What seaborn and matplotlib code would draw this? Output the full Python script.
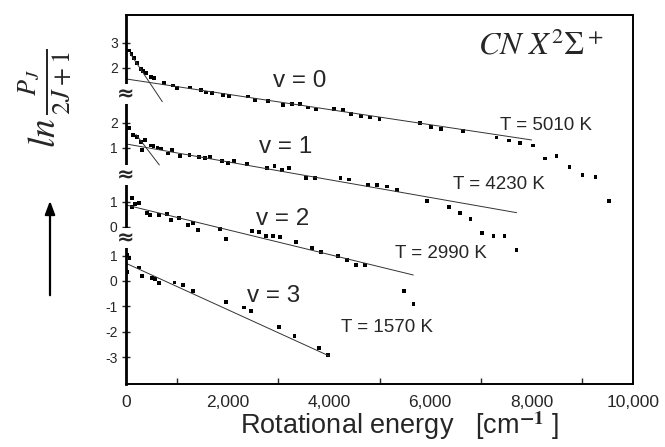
import numpy as np
import pandas as pd
import matplotlib
matplotlib.use("Agg")
import matplotlib.pyplot as plt
import seaborn as sns

# ---------------- data ----------------
x_v0 = [59, 108, 158, 217, 290, 341, 394, 493, 558, 755, 921, 1012, 1262, 1479, 1578, 1690,
        1919, 2031, 2412, 2544, 2806, 3102, 3274, 3431, 3589, 3753, 4108, 4285, 4443, 4640,
        4818, 5003, 5798, 6015, 6212, 6646, 7310, 7553, 7770, 8026, 8263, 8493, 8750, 9006,
        9259, 9525]
y_v0 = [2.689, 2.551, 2.382, 2.197, 1.960, 1.882, 1.791, 1.634, 1.594, 1.397, 1.303, 1.201,
        1.224, 1.122, 1.027, 1.004, 0.937, 0.897, 0.870, 0.740, 0.701, 0.543, 0.583, 0.571,
        0.445, 0.358, 0.386, 0.334, 0.189, 0.110, 0.043, -0.008, -0.166, -0.323, -0.414,
        -0.480, -0.736, -0.862, -0.953, -1.051, -1.571, -1.465, -1.898, -2.213, -2.280, -3.225]

x_v1 = [65, 138, 217, 302, 321, 375, 493, 542, 621, 690, 828, 901, 1065, 1252, 1445, 1558,
        1656, 1887, 2006, 2130, 2380, 2775, 2928, 3082, 3214, 3544, 3727, 4230, 4398, 4768,
        4950, 5153, 5344, 5936, 6369, 6586, 6797, 7026, 7247, 7468, 7705]
y_v1 = [1.776, 1.512, 1.433, 1.248, 0.921, 1.315, 1.091, 1.079, 1.020, 0.981, 0.776, 0.921,
        0.697, 0.713, 0.646, 0.607, 0.646, 0.496, 0.421, 0.500, 0.382, 0.201, 0.299, 0.134,
        0.213, -0.193, -0.193, -0.193, -0.240, -0.456, -0.468, -0.523, -0.653, -1.086,
        -1.311, -1.571, -1.783, -2.358, -2.464, -2.464, -3.016]

x_v2 = [112, 112, 183, 260, 408, 479, 657, 803, 887, 1051, 1229, 1327, 1426, 1860, 1978,
        2479, 2617, 2755, 2893, 3043, 3352, 3674, 3840, 4187, 4364, 4542, 4719, 5482, 5673]
y_v2 = [1.130, 0.799, 0.898, 0.957, 0.551, 0.484, 0.472, 0.524, 0.276, 0.343, 0.079, 0.157,
        -0.118, -0.079, -0.472, -0.169, -0.209, -0.366, -0.354, -0.406, -0.579, -0.827,
        -0.972, -1.142, -1.299, -1.484, -1.496, -2.508, -3.020]

x_v3 = [14, 69, 20, 260, 310, 507, 572, 655, 956, 1128, 1315, 1966, 2327, 2459, 3017, 3323,
        3812, 3978]
y_v3 = [1.024, 0.917, 0.366, 0.531, 0.209, 0.118, 0.091, -0.071, -0.059, -0.146, -0.402,
        -0.827, -1.043, -1.169, -1.823, -2.165, -2.650, -2.913]

# fitted straight lines (end points)
fit_x = {"v0": [0, 8000], "v1": [0, 7705], "v2": [0, 5666], "v3": [0, 4009]}
fit_y = {"v0": [1.567, -0.835], "v1": [1.158, -1.547], "v2": [0.866, -1.890], "v3": [0.697, -2.953]}
# steep initial tangents
hot_x = {"v0": [79, 716], "v1": [197, 657]}
hot_y = {"v0": [2.579, 0.673], "v1": [1.532, 0.331]}

series = ["v0", "v1", "v2", "v3"]
temps = ["T = 5010 K", "T = 4230 K", "T = 2990 K", "T = 1570 K"]
vlabels = ["v = 0", "v = 1", "v = 2", "v = 3"]
tick_vals = {"v0": [3, 2], "v1": [2, 1], "v2": [1, 0], "v3": [1, 0, -1, -2, -3]}
xticks = [0, 2000, 4000, 6000, 8000, 10000]
xticklabels = ["0", "2,000", "4,000", "6,000", "8,000", "10,000"]

# ---------------- layout (stacked offsets of the broken axis) ----------------
offset = {"v0": 6.386, "v1": 4.236, "v2": 2.126, "v3": 0.0}
breaks = [7.36, 4.17, 1.69]

sns.set_theme(style="white")
plt.rcParams["font.family"] = ["Liberation Sans", "DejaVu Sans"]
plt.rcParams["mathtext.fontset"] = "stix"

fig = plt.figure(figsize=(6.65, 4.47), dpi=100)
ax = fig.add_axes([126 / 665, 1 - 384 / 447, (633 - 126) / 665, (384 - 15) / 447])

xs = {"v0": x_v0, "v1": x_v1, "v2": x_v2, "v3": x_v3}
ys = {"v0": y_v0, "v1": y_v1, "v2": y_v2, "v3": y_v3}
pts = pd.concat([pd.DataFrame({"E": xs[s], "Y": np.array(ys[s]) + offset[s], "series": s})
                 for s in series], ignore_index=True)
sns.scatterplot(data=pts, x="E", y="Y", hue="series", palette=["black"] * 4,
                marker="s", s=7, linewidth=0, legend=False, ax=ax)

lines = []
for s in series:
    lines.append(pd.DataFrame({"E": fit_x[s], "Y": np.array(fit_y[s]) + offset[s], "seg": "fit_" + s}))
for s in hot_x:
    lines.append(pd.DataFrame({"E": hot_x[s], "Y": np.array(hot_y[s]) + offset[s], "seg": "hot_" + s}))
lines = pd.concat(lines, ignore_index=True)
sns.lineplot(data=lines, x="E", y="Y", hue="seg", palette=["#333333"] * lines["seg"].nunique(),
             linewidth=0.7, sort=False, estimator=None, legend=False, ax=ax)

ax.set_xlim(0, 10000)
ax.set_ylim(-4.055, 10.47)

yt, ytl = [], []
for s in series:
    for v in tick_vals[s]:
        yt.append(v + offset[s])
        ytl.append(str(v))
ax.set_yticks(yt)
ax.set_yticklabels(ytl, fontsize=10)
ax.set_xticks(xticks)
ax.set_xticklabels(xticklabels, fontsize=12.5)
ax.set_xticks(range(1000, 10000, 2000), minor=True)
ax.tick_params(axis="x", which="major", direction="in", length=7, width=1, pad=8, color="black")
ax.tick_params(axis="x", which="minor", direction="in", length=4, width=1, bottom=True)
ax.tick_params(axis="y", which="major", direction="inout", length=6, width=1, left=True, pad=3)
ax.set_xlabel("")
ax.set_ylabel("")
for sp in ax.spines.values():
    sp.set_color("black")
    sp.set_linewidth(1.4)
ax.spines["left"].set_linewidth(2)

for b in breaks:
    ax.text(0, b, "\u2248", transform=ax.get_yaxis_transform(), ha="center", va="center",
            fontsize=15, fontweight="bold", family="DejaVu Sans",
            bbox=dict(facecolor="white", edgecolor="none", pad=0.05), zorder=5, clip_on=False)

# labels inside
vpos = [(3430, 7.87), (3140, 5.28), (3080, 2.44), (2920, -0.59)]
for s, lab, (xx, yy) in zip(series, vlabels, vpos):
    ax.text(xx, yy, lab, fontsize=17.5, ha="center", va="center")
tpos = [(8292, 6.14), (7365, 3.78), (6202, 1.10), (5157, -1.85)]
for lab, (xx, yy) in zip(temps, tpos):
    ax.text(xx, yy, lab, fontsize=13.5, ha="center", va="center")
ax.text(8180, 9.25, r"$CN\ X^2\Sigma^+$", fontsize=23, ha="center", va="center")

fig.text(400 / 665, 1 - 426 / 447, r"Rotational energy   [cm$^{\mathbf{-1}}$ ]",
         fontsize=19.5, ha="center", va="center")
fig.text(46 / 665, 1 - 98 / 447, r"$ln\,\frac{P_J}{2J+1}$", fontsize=27, rotation=90,
         ha="center", va="center")
fig.add_artist(matplotlib.patches.FancyArrowPatch(
    (50 / 665, 1 - 298 / 447), (50 / 665, 1 - 198 / 447), transform=fig.transFigure,
    arrowstyle="-|>,head_length=8,head_width=3", color="black", linewidth=1.6))

fig.savefig("out.png", dpi=100)
